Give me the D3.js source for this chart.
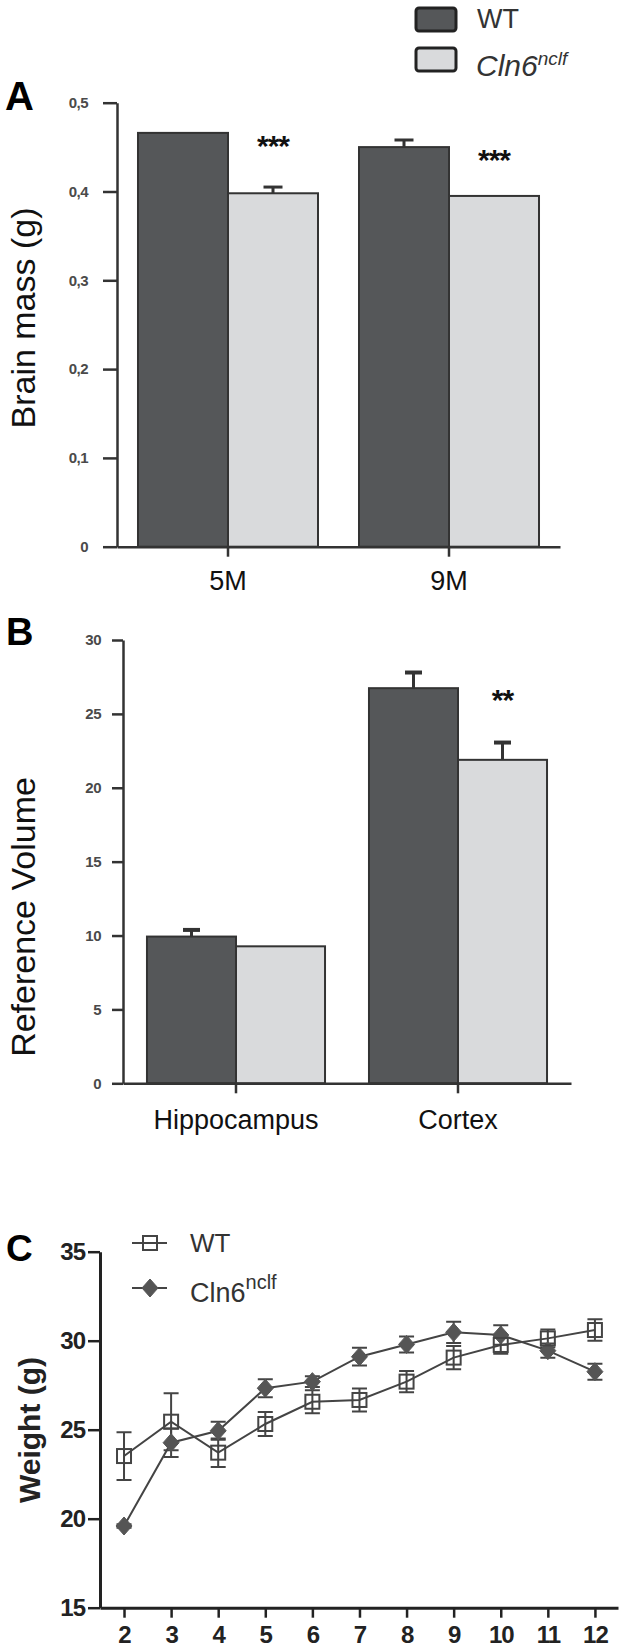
<!DOCTYPE html>
<html>
<head>
<meta charset="utf-8">
<script src="https://cdn.jsdelivr.net/npm/d3@7"></script>
<style>
  html, body { margin: 0; padding: 0; background: #fff; }
  svg { display: block; }
  text { font-family: "Liberation Sans", Arial, sans-serif; }
</style>
</head>
<body>
<script>
// ---------- Panel A: brain mass ----------
const groupsA = ['5M', '9M'];
const brainWT = [0.466, 0.450];
const brainWTErr = [0, 0.008];
const brainCln = [0.398, 0.395];
const brainClnErr = [0.007, 0];
const sigA = ['***', '***'];
const ticksA = [0, 0.1, 0.2, 0.3, 0.4, 0.5];

// ---------- Panel B: reference volume ----------
const regionsB = ['Hippocampus', 'Cortex'];
const volWT = [9.93, 26.74];
const volWTErr = [0.45, 1.06];
const volCln = [9.27, 21.89];
const volClnErr = [0, 1.17];
const sigB = ['', '**'];
const ticksB = [0, 5, 10, 15, 20, 25, 30];

// ---------- Panel C: weight over months ----------
const months = [2, 3, 4, 5, 6, 7, 8, 9, 10, 11, 12];
const weightWT = [23.52, 25.45, 23.71, 25.32, 26.57, 26.67, 27.70, 29.05, 29.76, 30.13, 30.60];
const weightWTErr = [1.34, 1.6, 0.8, 0.67, 0.65, 0.65, 0.6, 0.65, 0.5, 0.5, 0.6];
const weightCln = [19.59, 24.27, 24.94, 27.33, 27.70, 29.10, 29.79, 30.47, 30.32, 29.44, 28.26];
const weightClnErr = [0.1, 0.8, 0.5, 0.5, 0.3, 0.5, 0.45, 0.6, 0.55, 0.4, 0.45];
const ticksCY = [15, 20, 25, 30, 35];

const seriesNames = ['WT', 'Cln6'];
const fillWT = '#555759';
const fillCln = '#d9dadc';
const strokeDark = '#333';

const svg = d3.select('body').append('svg').attr('width', 627).attr('height', 1652);

// ---------- Top legend ----------
const leg = svg.append('g');
leg.append('rect').attr('x', 416).attr('y', 8).attr('width', 40).attr('height', 23).attr('rx', 3)
  .attr('fill', fillWT).attr('stroke', '#222').attr('stroke-width', 3);
leg.append('rect').attr('x', 416).attr('y', 48).attr('width', 40).attr('height', 23).attr('rx', 3)
  .attr('fill', fillCln).attr('stroke', '#222').attr('stroke-width', 3);
leg.append('text').attr('x', 477).attr('y', 28).attr('font-size', 27).attr('fill', '#333').text('WT');
const lt = leg.append('text').attr('x', 476).attr('y', 76).attr('font-size', 30).attr('font-style', 'italic').attr('fill', '#333');
lt.append('tspan').text('Cln6');
lt.append('tspan').attr('font-size', 19).attr('dy', -11).text('nclf');

// ---------- generic bar panel ----------
function barPanel(opts) {
  const { cats, wt, wtErr, cln, clnErr, sig, ticks, y, x, tickSize, tickPad, fmt, labelPad, capW, capSW, sigOffset } = opts;
  const s = d3.scaleBand().domain(seriesNames).range([0, x.bandwidth()]);
  const g = svg.append('g');
  const data = [];
  cats.forEach((c, i) => {
    data.push({ c, s: 'WT', v: wt[i], e: wtErr[i] });
    data.push({ c, s: 'Cln6', v: cln[i], e: clnErr[i] });
  });
  g.selectAll('rect.bar').data(data).join('rect')
    .attr('x', d => x(d.c) + s(d.s))
    .attr('y', d => y(d.v))
    .attr('width', s.bandwidth())
    .attr('height', d => y(0) - y(d.v))
    .attr('fill', d => d.s === 'WT' ? fillWT : fillCln)
    .attr('stroke', strokeDark).attr('stroke-width', 2);
  const eb = data.filter(d => d.e > 0);
  g.selectAll('line.stem').data(eb).join('line')
    .attr('x1', d => x(d.c) + s(d.s) + s.bandwidth() / 2)
    .attr('x2', d => x(d.c) + s(d.s) + s.bandwidth() / 2)
    .attr('y1', d => y(d.v)).attr('y2', d => y(d.v + d.e))
    .attr('stroke', strokeDark).attr('stroke-width', 3);
  g.selectAll('line.cap').data(eb).join('line')
    .attr('x1', d => x(d.c) + s(d.s) + s.bandwidth() / 2 - capW / 2)
    .attr('x2', d => x(d.c) + s(d.s) + s.bandwidth() / 2 + capW / 2)
    .attr('y1', d => y(d.v + d.e)).attr('y2', d => y(d.v + d.e))
    .attr('stroke', strokeDark).attr('stroke-width', capSW);
  g.selectAll('text.sig').data(cats.map((c, i) => ({ c, t: sig[i], v: wt[i] })).filter(d => d.t)).join('text')
    .attr('x', d => x(d.c) + s('Cln6') + s.bandwidth() / 2)
    .attr('y', d => y(d.v) + sigOffset)
    .attr('text-anchor', 'middle').attr('font-size', 30).attr('font-weight', 'bold')
    .attr('letter-spacing', -1).attr('fill', '#111').text(d => d.t);

  const ya = g.append('g').attr('transform', `translate(${x.range()[0]},0)`)
    .call(d3.axisLeft(y).tickValues(ticks).tickSize(tickSize).tickSizeOuter(0).tickPadding(tickPad).tickFormat(fmt));
  ya.select('.domain').attr('stroke', strokeDark).attr('stroke-width', 2.5);
  ya.selectAll('.tick line').attr('stroke', strokeDark).attr('stroke-width', 2.5);
  ya.selectAll('.tick text').attr('font-size', 15).attr('font-weight', 'bold').attr('fill', '#4a4a4a')
    .attr('letter-spacing', -0.5).style('font-family', '"Liberation Sans", Arial, sans-serif');
  const xa = g.append('g').attr('transform', `translate(0,${y(0)})`)
    .call(d3.axisBottom(x).tickSize(10).tickSizeOuter(0).tickPadding(labelPad));
  xa.select('.domain').attr('stroke', strokeDark).attr('stroke-width', 2.5);
  xa.selectAll('.tick line').attr('stroke', strokeDark).attr('stroke-width', 2.5);
  xa.selectAll('.tick text').attr('font-size', 27).attr('fill', '#111')
    .style('font-family', '"Liberation Sans", Arial, sans-serif');
}

// Panel A
const yA = d3.scaleLinear().domain([0, 0.5]).range([546.7, 102.7]);
const xA = d3.scaleBand().domain(groupsA).range([117, 560]).paddingInner(0.1855).paddingOuter(0.095);
barPanel({
  cats: groupsA, wt: brainWT, wtErr: brainWTErr, cln: brainCln, clnErr: brainClnErr, sig: sigA,
  ticks: ticksA, y: yA, x: xA, tickSize: 14, tickPad: 15,
  fmt: d => d === 0 ? '0' : d3.format('.1f')(d).replace('.', ','),
  labelPad: 14, capW: 19, capSW: 3, sigOffset: 23
});

// Panel B
const yB = d3.scaleLinear().domain([0, 30]).range([1083.3, 640]);
const xB = d3.scaleBand().domain(regionsB).range([123, 571]).paddingInner(0.198).paddingOuter(0.108);
barPanel({
  cats: regionsB, wt: volWT, wtErr: volWTErr, cln: volCln, clnErr: volClnErr, sig: sigB,
  ticks: ticksB, y: yB, x: xB, tickSize: 11, tickPad: 11,
  fmt: d3.format('d'),
  labelPad: 17, capW: 17, capSW: 4, sigOffset: 22
});

// Panel letters and y titles
svg.append('text').attr('x', 5).attr('y', 110).attr('font-size', 40).attr('font-weight', 'bold').attr('fill', '#000').text('A');
svg.append('text').attr('x', 6).attr('y', 645).attr('font-size', 38).attr('font-weight', 'bold').attr('fill', '#000').text('B');
svg.append('text').attr('x', 6).attr('y', 1261).attr('font-size', 37).attr('font-weight', 'bold').attr('fill', '#000').text('C');

svg.append('text').attr('transform', 'translate(35,318) rotate(-90)').attr('text-anchor', 'middle')
  .attr('font-size', 34).attr('fill', '#111').text('Brain mass (g)');
svg.append('text').attr('transform', 'translate(35,917) rotate(-90)').attr('text-anchor', 'middle')
  .attr('font-size', 34).attr('fill', '#111').text('Reference Volume');
svg.append('text').attr('transform', 'translate(40,1430) rotate(-90)').attr('text-anchor', 'middle')
  .attr('font-size', 30).attr('font-weight', 'bold').attr('fill', '#222').text('Weight (g)');

// ---------- Panel C ----------
const xC = d3.scaleLinear().domain([1.49, 12.49]).range([100, 618]);
const yC = d3.scaleLinear().domain([15, 35]).range([1607.7, 1251.7]);
const gC = svg.append('g');
const lineC = d3.line().x(d => xC(d.m)).y(d => yC(d.v));
const wtPts = months.map((m, i) => ({ m, v: weightWT[i], e: weightWTErr[i] }));
const clPts = months.map((m, i) => ({ m, v: weightCln[i], e: weightClnErr[i] }));
const cLine = '#444';

function errBars(pts) {
  gC.append('g').selectAll('path').data(pts).join('path')
    .attr('d', d => {
      const cx = xC(d.m), t = yC(d.v + d.e), b = yC(d.v - d.e);
      return `M${cx - 7.5},${t}H${cx + 7.5}M${cx},${t}V${b}M${cx - 7.5},${b}H${cx + 7.5}`;
    })
    .attr('fill', 'none').attr('stroke', cLine).attr('stroke-width', 2);
}
errBars(clPts);
errBars(wtPts);
gC.append('path').datum(clPts).attr('d', lineC).attr('fill', 'none').attr('stroke', cLine).attr('stroke-width', 2);
gC.append('path').datum(wtPts).attr('d', lineC).attr('fill', 'none').attr('stroke', cLine).attr('stroke-width', 2);
const diamond = 'M0,-9L8,0L0,9L-8,0Z';
gC.append('g').selectAll('path').data(clPts).join('path')
  .attr('transform', d => `translate(${xC(d.m)},${yC(d.v)})`)
  .attr('d', diamond).attr('fill', '#555').attr('stroke', '#555').attr('stroke-width', 1);
gC.append('g').selectAll('rect').data(wtPts).join('rect')
  .attr('x', d => xC(d.m) - 7).attr('y', d => yC(d.v) - 7).attr('width', 14).attr('height', 14)
  .attr('fill', 'none').attr('stroke', cLine).attr('stroke-width', 2);

const yaC = gC.append('g').attr('transform', 'translate(100,0)')
  .call(d3.axisLeft(yC).tickValues(ticksCY).tickSize(12).tickSizeOuter(0).tickPadding(3));
yaC.select('.domain').attr('stroke', '#222').attr('stroke-width', 3);
yaC.selectAll('.tick line').attr('stroke', '#222').attr('stroke-width', 2.5);
yaC.selectAll('.tick text').attr('font-size', 24).attr('font-weight', 'bold').attr('fill', '#222')
  .attr('letter-spacing', -1).style('font-family', '"Liberation Sans", Arial, sans-serif');
const xaC = gC.append('g').attr('transform', `translate(0,${yC(15)})`)
  .call(d3.axisBottom(xC).tickValues(months).tickSize(10).tickSizeOuter(0).tickPadding(8).tickFormat(d3.format('d')));
xaC.select('.domain').attr('stroke', '#222').attr('stroke-width', 3);
xaC.selectAll('.tick line').attr('stroke', '#222').attr('stroke-width', 2.5);
xaC.selectAll('.tick text').attr('font-size', 24).attr('font-weight', 'bold').attr('fill', '#222')
  .attr('letter-spacing', -1).style('font-family', '"Liberation Sans", Arial, sans-serif');

// Legend C
const lc = svg.append('g');
lc.append('line').attr('x1', 132).attr('x2', 167).attr('y1', 1243).attr('y2', 1243).attr('stroke', cLine).attr('stroke-width', 2);
lc.append('rect').attr('x', 143).attr('y', 1236).attr('width', 14).attr('height', 14).attr('fill', 'none').attr('stroke', cLine).attr('stroke-width', 2);
lc.append('text').attr('x', 190).attr('y', 1252).attr('font-size', 26).attr('fill', '#333').text('WT');
lc.append('line').attr('x1', 132).attr('x2', 167).attr('y1', 1288).attr('y2', 1288).attr('stroke', cLine).attr('stroke-width', 2);
lc.append('path').attr('transform', 'translate(150,1288)').attr('d', diamond).attr('fill', '#555').attr('stroke', '#555');
const lct = lc.append('text').attr('x', 190).attr('y', 1302).attr('font-size', 27).attr('fill', '#333');
lct.append('tspan').text('Cln6');
lct.append('tspan').attr('font-size', 20).attr('dy', -13).text('nclf');
</script>
</body>
</html>
